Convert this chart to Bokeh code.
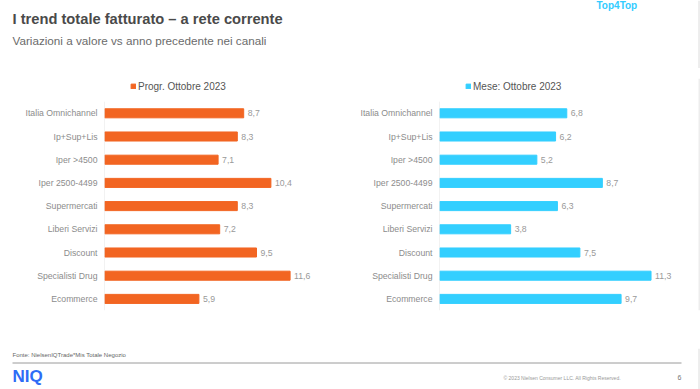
from bokeh.plotting import figure
from bokeh.layouts import column, row
from bokeh.models import Range1d, FactorRange, Legend, LegendItem, ColumnDataSource, LabelSet
from bokeh.core.properties import value
from bokeh.embed import file_html
from bokeh.resources import INLINE

channels = ["Italia Omnichannel", "Ip+Sup+Lis", "Iper >4500", "Iper 2500-4499",
            "Supermercati", "Liberi Servizi", "Discount", "Specialisti Drug", "Ecommerce"]
progr = [8.7, 8.3, 7.1, 10.4, 8.3, 7.2, 9.5, 11.6, 5.9]
mese = [6.8, 6.2, 5.2, 8.7, 6.3, 3.8, 7.5, 11.3, 9.7]
series_names = ["Progr. Ottobre 2023", "Mese: Ottobre 2023"]

FONT = value("Liberation Sans")
W = 700
EDGE = "#dcdcdc"


def canvas(w, h):
    p = figure(width=w, height=h, x_range=Range1d(0, w), y_range=Range1d(h, 0),
               output_backend="svg", toolbar_location=None, min_border=0)
    p.axis.visible = False
    p.grid.visible = False
    p.outline_line_color = None
    return p


def bar_chart(vals, color, name, xmax, width, left, right):
    src = ColumnDataSource(dict(cat=channels, val=vals,
                                lab=[f"{v:.1f}".replace(".", ",") for v in vals]))
    # a blank band on top holds the legend
    p = figure(width=width, height=280,
               y_range=FactorRange(factors=channels[::-1] + [" "], range_padding=0),
               x_range=Range1d(0, xmax), output_backend="svg", toolbar_location=None,
               min_border_left=left, min_border_right=right,
               min_border_top=10, min_border_bottom=38)
    r = p.hbar(y="cat", left=0, right="val", height=0.39, color=color, source=src)
    p.segment(x0=[0], x1=[0], y0=[(channels[-1], -0.5)], y1=[(channels[0], 0.5)],
              line_color="#e6e6e6", line_width=1)
    p.add_layout(LabelSet(x="val", y="cat", text="lab", x_offset=4, source=src,
                          text_baseline="middle", text_font_size="8.7px",
                          text_color="#999999", text_font=FONT))
    p.xaxis.visible = False
    p.grid.visible = False
    p.outline_line_color = None
    p.yaxis.axis_line_color = None
    p.yaxis.major_tick_line_color = None
    p.yaxis.minor_tick_line_color = None
    p.yaxis.major_tick_out = 0
    p.yaxis.major_label_text_color = "#8c8c8c"
    p.yaxis.major_label_text_font_size = "8.7px"
    p.yaxis.major_label_text_font = "Liberation Sans"
    p.yaxis.major_label_standoff = 7
    leg = Legend(items=[LegendItem(label=name, renderers=[r])], location=(26, 218),
                 orientation="horizontal", border_line_color=None, background_fill_alpha=0,
                 padding=0, margin=0, glyph_width=6, glyph_height=6, label_height=12,
                 label_standoff=2, label_text_font_size="10px", label_text_color="#555555",
                 label_text_font="Liberation Sans")
    p.add_layout(leg, "center")
    return p


# header
hdr = canvas(W, 68)
hdr.text(x=[12], y=[18], text=["I trend totale fatturato \u2013 a rete corrente"],
         text_font=FONT, text_font_size="14.7px", text_font_style="bold",
         text_color="#4a4a4a", text_baseline="middle")
hdr.text(x=[12], y=[40], text=["Variazioni a valore vs anno precedente nei canali"],
         text_font=FONT, text_font_size="11.7px", text_color="#6b6b6b", text_baseline="middle")
hdr.text(x=[596], y=[5], text=["Top4Top"], text_font=FONT, text_font_size="10px",
         text_font_style="bold", text_color="#33ccff", text_baseline="middle")
hdr.segment(x0=[698.5], y0=[0], x1=[698.5], y1=[68], line_color=EDGE, line_width=1)

left = bar_chart(progr, "#f26522", series_names[0], 14, 350, 104, 22)
right = bar_chart(mese, "#33cfff", series_names[1], 12.5, 348, 89, 25)
strip = canvas(2, 280)
strip.segment(x0=[0.5], y0=[0], x1=[0.5], y1=[280], line_color=EDGE, line_width=1)

# footer
ftr = canvas(W, 41)
ftr.text(x=[12], y=[6], text=["Fonte: NielsenIQTrade*Mis Totale Negozio"], text_font=FONT,
         text_font_size="6px", text_color="#666666", text_baseline="middle")
ftr.segment(x0=[12], y0=[14.5], x1=[681], y1=[14.5], line_color="#9a9a9a", line_width=1)
ftr.text(x=[12], y=[28], text=["NIQ"], text_font=FONT, text_font_size="17px",
         text_font_style="bold", text_color="#2e6cf6", text_baseline="middle")
ftr.text(x=[503], y=[29], text=["\u00a9 2023 Nielsen Consumer LLC. All Rights Reserved."],
         text_font=FONT, text_font_size="5px", text_color="#999999", text_baseline="middle")
ftr.text(x=[677], y=[29], text=["6"], text_font=FONT, text_font_size="7px",
         text_color="#777777", text_baseline="middle")
ftr.segment(x0=[698.5], y0=[0], x1=[698.5], y1=[41], line_color=EDGE, line_width=1)

layout = column(hdr, row(left, right, strip), ftr)
open("out.html", "w").write(file_html(layout, INLINE))
